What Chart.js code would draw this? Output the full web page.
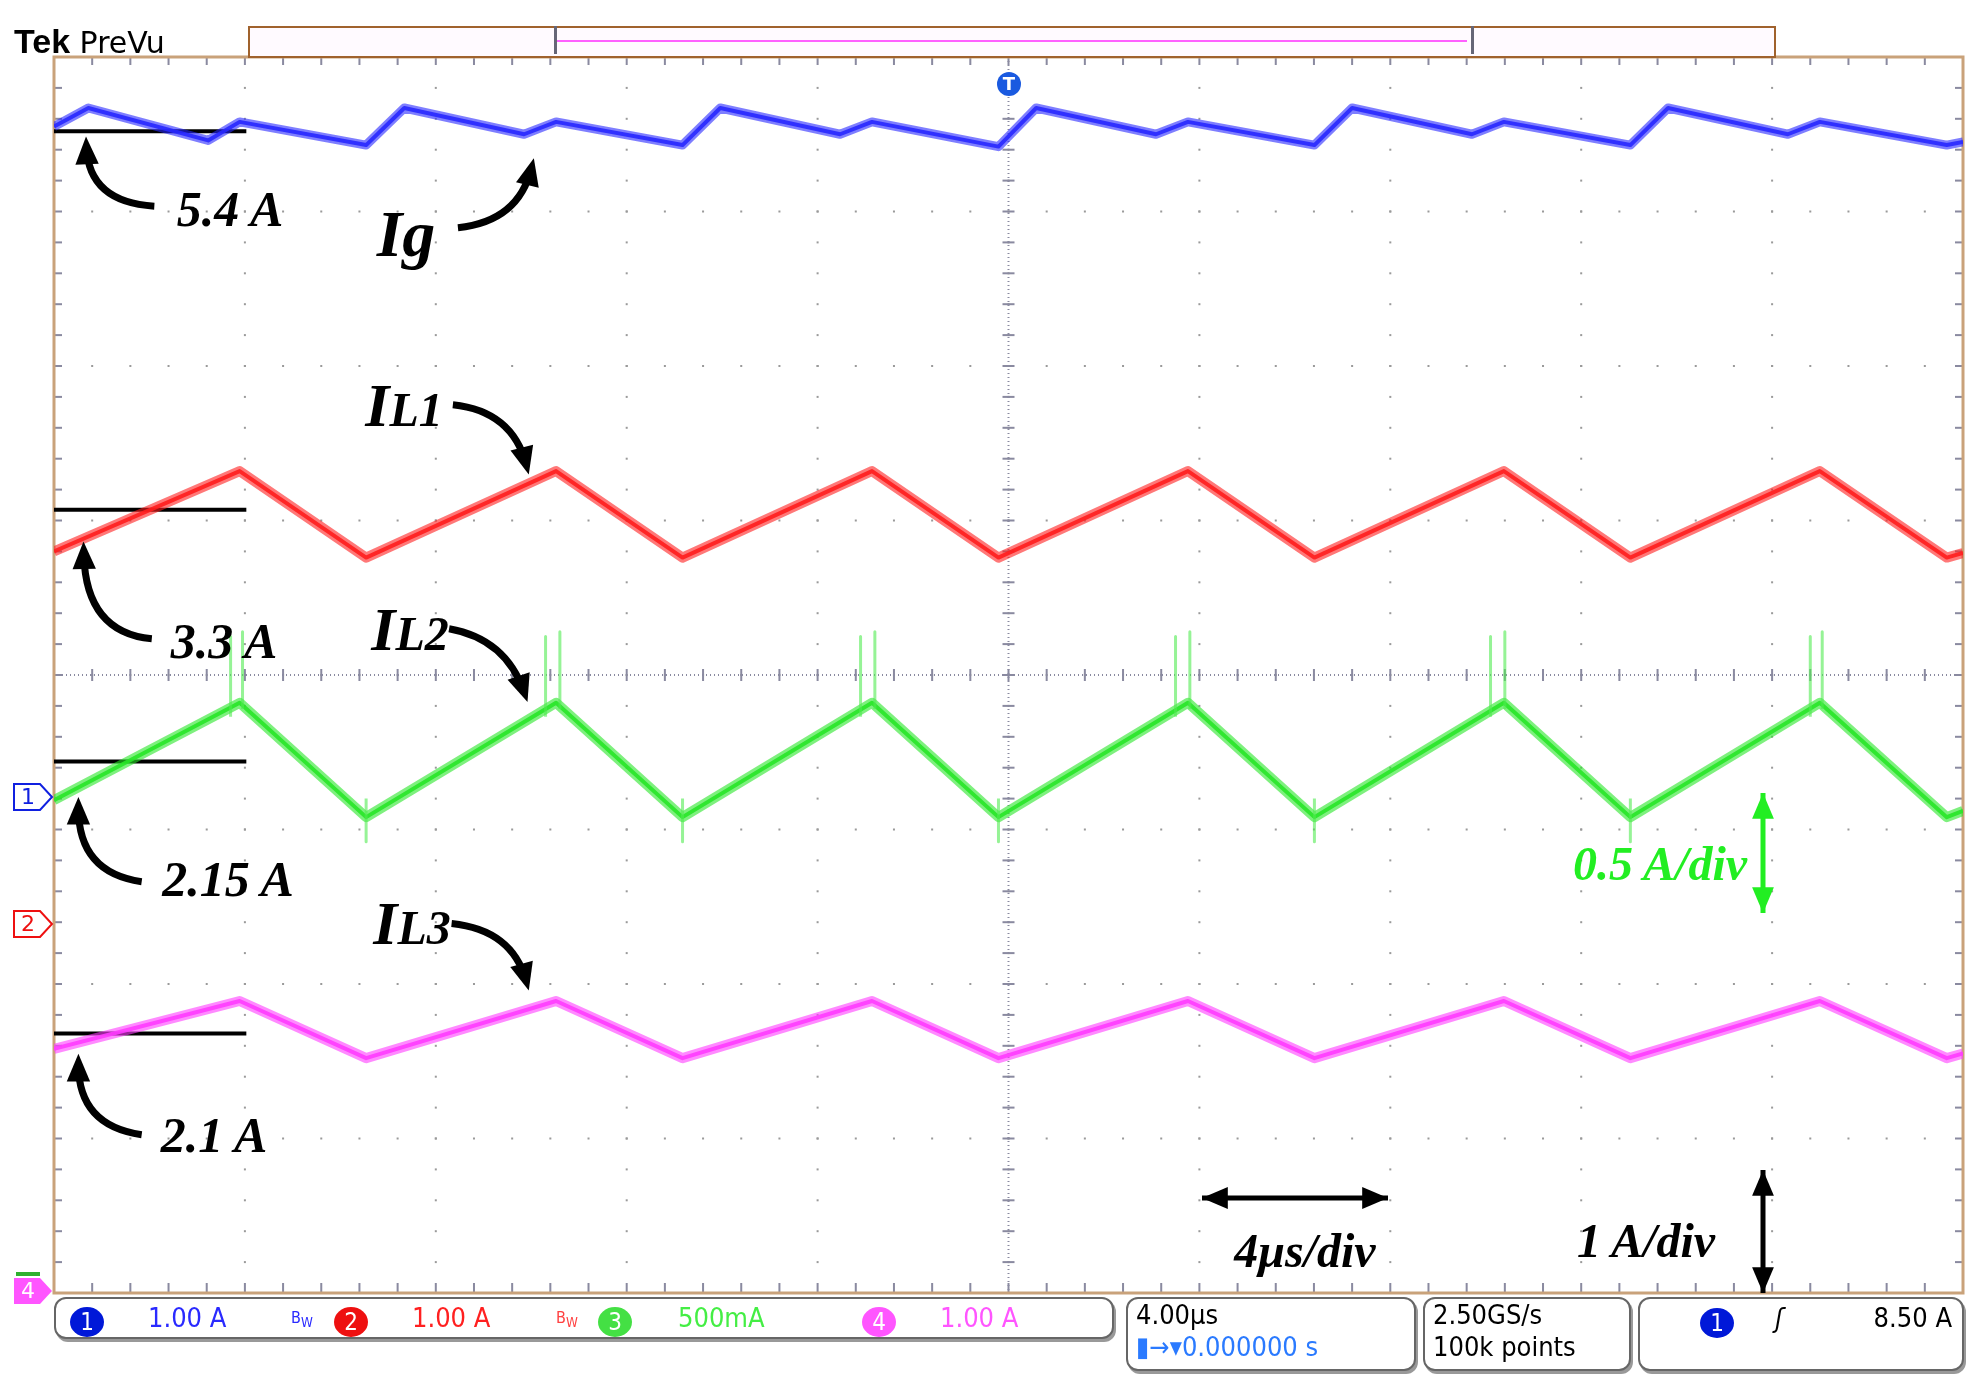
<!DOCTYPE html>
<html><head><meta charset="utf-8">
<script src="https://cdn.jsdelivr.net/npm/chart.js@4"></script>
<style>
body{margin:0;background:#fff;width:1980px;height:1395px;position:relative;overflow:hidden;font-family:"DejaVu Sans",sans-serif}
#c{position:absolute;left:0;top:0}
.lb{position:absolute;font-family:"Liberation Serif",serif;font-weight:bold;font-style:italic;color:#000;white-space:nowrap;transform:translate(-50%,-50%)}
.box{position:absolute;border:2px solid #666;border-radius:12px;box-shadow:2px 3px 0 #999;background:#fff;font-family:"DejaVu Sans Condensed","DejaVu Sans",sans-serif;font-size:27px}
.ci{display:inline-block;width:34px;height:30px;border-radius:50%;color:#fff;text-align:center;line-height:30px;font-size:24px}
</style></head><body>
<canvas id="c" width="1980" height="1395"></canvas>
<div style="position:absolute;left:14px;top:22px;font-size:30px;"><b style="font-family:'Liberation Sans Narrow','Liberation Sans';font-size:34px">Tek</b> PreVu</div>
<div style="position:absolute;left:248px;top:26px;width:1524px;height:28px;border:2px solid #a0622d;background:#fffaff"></div>
<div style="position:absolute;left:554px;top:26px;width:914px;height:28px;border-left:3px solid #667;border-right:3px solid #667"></div>
<div style="position:absolute;left:557px;top:40px;width:910px;height:2px;background:#ff60ff"></div>

<div class="lb" style="left:230px;top:209px;font-size:50px">5.4 A</div>
<div class="lb" style="left:406px;top:234px;font-size:66px">Ig</div>
<div class="lb" style="left:404px;top:405px;font-size:62px">I<span style="font-size:48px">L1</span></div>
<div class="lb" style="left:224px;top:641px;font-size:50px">3.3 A</div>
<div class="lb" style="left:410px;top:629px;font-size:62px">I<span style="font-size:48px">L2</span></div>
<div class="lb" style="left:228px;top:879px;font-size:50px">2.15 A</div>
<div class="lb" style="left:412px;top:923px;font-size:62px">I<span style="font-size:48px">L3</span></div>
<div class="lb" style="left:214px;top:1135px;font-size:50px">2.1 A</div>
<div class="lb" style="left:1660px;top:863px;font-size:48px;color:#22ee22">0.5 A/div</div>
<div class="lb" style="left:1305px;top:1250px;font-size:48px">4μs/div</div>
<div class="lb" style="left:1646px;top:1240px;font-size:48px">1 A/div</div>

<div class="box" style="left:54px;top:1297px;width:1056px;height:38px;line-height:38px">
 <span style="position:absolute;left:14px;top:3px"><span class="ci" style="background:#0018d8">1</span></span>
 <span style="position:absolute;left:92px;color:#2a2aff">1.00 A</span>
 <span style="position:absolute;left:235px;color:#2a2aff;font-size:16px">B<sub>W</sub></span>
 <span style="position:absolute;left:278px;top:3px"><span class="ci" style="background:#ee1010">2</span></span>
 <span style="position:absolute;left:356px;color:#ff2020">1.00 A</span>
 <span style="position:absolute;left:500px;color:#ff4040;font-size:16px">B<sub>W</sub></span>
 <span style="position:absolute;left:542px;top:3px"><span class="ci" style="background:#44e044">3</span></span>
 <span style="position:absolute;left:622px;color:#44ee44">500mA</span>
 <span style="position:absolute;left:806px;top:3px"><span class="ci" style="background:#ff55ff">4</span></span>
 <span style="position:absolute;left:884px;color:#ff55ff">1.00 A</span>
</div>
<div class="box" style="left:1126px;top:1297px;width:278px;height:70px;line-height:32px;padding-left:8px">4.00μs<br><span style="color:#2a7aff">▮→▾0.000000 s</span></div>
<div class="box" style="left:1423px;top:1297px;width:196px;height:70px;line-height:32px;padding-left:8px">2.50GS/s<br>100k points</div>
<div class="box" style="left:1638px;top:1297px;width:322px;height:70px;line-height:38px">
 <span style="position:absolute;left:60px;top:4px"><span class="ci" style="background:#0018d8">1</span></span>
 <span style="position:absolute;left:135px;font-style:italic">ʃ</span>
 <span style="position:absolute;right:10px">8.50 A</span>
</div>
<script>
// time in µs (4 µs/div), values in screen divisions (0 = centre line)
const tIg  = [0,0.72,3.23,3.89,6.54,7.34,9.85,10.52,13.17,13.96,16.47,17.14,19.79,20.58,23.09,23.76,26.41,27.2,29.71,30.38,33.03,33.82,36.33,37.0,39.66,40];
const vIg  = [3.55,3.67,3.46,3.58,3.43,3.67,3.50,3.58,3.43,3.67,3.50,3.58,3.42,3.67,3.50,3.58,3.43,3.67,3.50,3.58,3.43,3.67,3.50,3.58,3.43,3.45];
const tL   = [0,3.89,6.54,10.52,13.17,17.14,19.79,23.76,26.41,30.38,33.03,37.0,39.66,40];
const vL1  = [0.80,1.32,0.76,1.32,0.76,1.32,0.76,1.32,0.76,1.32,0.76,1.32,0.76,0.79];
const vL2  = [-0.81,-0.18,-0.92,-0.18,-0.92,-0.18,-0.92,-0.18,-0.92,-0.18,-0.92,-0.18,-0.92,-0.88];
const vL3  = [-2.42,-2.11,-2.48,-2.11,-2.48,-2.11,-2.48,-2.11,-2.48,-2.11,-2.48,-2.11,-2.48,-2.45];
// reference markers (A labels)
const refX = [0,4.03];
const ref54 = 3.52, ref33 = 1.07, ref215 = -0.56, ref21 = -2.32;
// green switching spikes
const tSp = [3.7,3.7,3.7,null,3.95,3.95,3.95,null,10.3,10.3,10.3,null,10.6,10.6,10.6,null,16.9,16.9,16.9,null,17.2,17.2,17.2,null,23.5,23.5,23.5,null,23.8,23.8,23.8,null,30.1,30.1,30.1,null,30.4,30.4,30.4,null,36.8,36.8,36.8,null,37.05,37.05,37.05,null,6.54,6.54,6.54,null,13.17,13.17,13.17,null,19.79,19.79,19.79,null,26.41,26.41,26.41,null,33.03,33.03,33.03];
const vSp = [-0.27,0.25,-0.27,null,-0.22,0.28,-0.22,null,-0.27,0.25,-0.27,null,-0.22,0.28,-0.22,null,-0.27,0.25,-0.27,null,-0.22,0.28,-0.22,null,-0.27,0.25,-0.27,null,-0.22,0.28,-0.22,null,-0.27,0.25,-0.27,null,-0.22,0.28,-0.22,null,-0.27,0.25,-0.27,null,-0.22,0.28,-0.22,null,-0.8,-1.08,-0.8,null,-0.8,-1.08,-0.8,null,-0.8,-1.08,-0.8,null,-0.8,-1.08,-0.8,null,-0.8,-1.08,-0.8];

const pts=(t,v)=>t.map((x,i)=>x===null?{x:null,y:null}:{x:x,y:v[i]});
const trace=(t,v,c,w)=>({data:pts(t,v),borderColor:c,borderWidth:w,pointRadius:0,tension:0,spanGaps:false,borderJoinStyle:'round'});
const S=1.265;
const arrows=[[122,163,70,160,68,108],[362,180,410,175,422,125],[358,320,405,325,418,375],[355,497,400,505,417,555],[357,730,405,735,418,783],[120,505,68,500,66,428],[112,697,62,690,62,630],[112,897,62,890,62,833]];
const deco={id:'deco',beforeDatasetsDraw(ch){
  const c=ch.ctx,a=ch.chartArea,cx=(a.left+a.right)/2,cy=(a.top+a.bottom)/2;
  c.save();c.fillStyle='#9a9a9a';
  const dx=(a.right-a.left)/10,dy=(a.bottom-a.top)/8;
  for(let i=1;i<10;i++)for(let j=0;j<=40;j++){c.fillRect(a.left+i*dx-1,a.top+j*dy/5-1,2,2);}
  for(let j=1;j<8;j++)for(let i=0;i<=50;i++){c.fillRect(a.left+i*dx/5-1,a.top+j*dy-1,2,2);}
  c.fillStyle='#8a8aa0';
  for(let y=a.top;y<a.bottom;y+=4)c.fillRect(cx-1,y,2,1);
  for(let x=a.left;x<a.right;x+=4)c.fillRect(x,cy-1,1,2);
  for(let i=0;i<=50;i++){const x=a.left+i*dx/5;c.fillRect(x-1,cy-6,2,12);c.fillRect(x-1,a.bottom-10,2,10);c.fillRect(x-1,a.top,2,8);}
  for(let j=0;j<=40;j++){const y=a.top+j*dy/5;c.fillRect(cx-6,y-1,12,2);c.fillRect(a.left,y-1,8,2);c.fillRect(a.right-8,y-1,8,2);}
  c.strokeStyle='#c9a27a';c.lineWidth=3;c.strokeRect(a.left,a.top,a.right-a.left,a.bottom-a.top);
  c.restore();},
 afterDatasetsDraw(ch){
  const c=ch.ctx;c.save();c.strokeStyle='#000';c.fillStyle='#000';c.lineWidth=7;
  for(const p of arrows){const [x0,y0,qx,qy,x1,y1]=p.map(v=>v*S);
    c.beginPath();c.moveTo(x0,y0);c.quadraticCurveTo(qx,qy,x1+(qx-x1)*0.15,y1+(qy-y1)*0.15);c.stroke();
    const ang=Math.atan2(y1-qy,x1-qx);c.beginPath();c.moveTo(x1,y1);
    c.lineTo(x1-30*Math.cos(ang-0.4),y1-30*Math.sin(ang-0.4));c.lineTo(x1-30*Math.cos(ang+0.4),y1-30*Math.sin(ang+0.4));c.fill();}
  const dbl=(x0,y0,x1,y1,col)=>{c.strokeStyle=col;c.fillStyle=col;c.lineWidth=5;c.beginPath();c.moveTo(x0,y0);c.lineTo(x1,y1);c.stroke();
    for(const [ax,ay,bx,by] of [[x0,y0,x1,y1],[x1,y1,x0,y0]]){const g=Math.atan2(ay-by,ax-bx);c.beginPath();c.moveTo(ax,ay);
    c.lineTo(ax-28*Math.cos(g-0.4),ay-28*Math.sin(g-0.4));c.lineTo(ax-28*Math.cos(g+0.4),ay-28*Math.sin(g+0.4));c.fill();}};
  dbl(1202,1198,1388,1198,'#000');dbl(1763,1170,1763,1293,'#000');dbl(1763,793,1763,913,'#22ee22');
  const mk=(y,col,t)=>{c.strokeStyle=col;c.lineWidth=2;c.fillStyle='#fff';c.beginPath();c.moveTo(14,y-13);c.lineTo(40,y-13);c.lineTo(52,y);c.lineTo(40,y+13);c.lineTo(14,y+13);c.closePath();c.fill();c.stroke();
    c.fillStyle=col;c.font='22px DejaVu Sans';c.textAlign='center';c.textBaseline='middle';c.fillText(t,28,y+1);};
  mk(797,'#1020e0','1');mk(924,'#ee1010','2');
  c.fillStyle='#ff55ff';c.beginPath();c.moveTo(14,1278);c.lineTo(40,1278);c.lineTo(52,1291);c.lineTo(40,1304);c.lineTo(14,1304);c.fill();
  c.fillStyle='#fff';c.font='22px DejaVu Sans';c.textAlign='center';c.textBaseline='middle';c.fillText('4',28,1292);
  c.fillStyle='#30b030';c.fillRect(16,1272,24,4);
  c.fillStyle='#1a5ae0';c.beginPath();c.arc(1009,84,12,0,7);c.fill();c.beginPath();c.arc(1009,44,11,0,7);c.fill();
  c.fillStyle='#fff';c.font='bold 18px DejaVu Sans';c.fillText('T',1009,85);c.fillText('T',1009,45);
  c.restore();}};
new Chart(document.getElementById('c'),{type:'line',
 data:{datasets:[
  trace(tIg,vIg,'rgba(40,40,255,0.6)',9),
  trace(tL,vL1,'rgba(255,30,30,0.6)',10),
  trace(tSp,vSp,'rgba(80,235,80,0.6)',3),
  trace(tL,vL2,'rgba(40,230,40,0.6)',10),
  trace(tL,vL3,'rgba(255,60,255,0.6)',10),
  trace(tIg,vIg,'rgba(40,40,255,0.9)',4),
  trace(tL,vL1,'rgba(255,30,30,0.9)',4),
  trace(tL,vL2,'rgba(40,230,40,0.9)',4),
  trace(tL,vL3,'rgba(255,60,255,0.9)',4),
  trace(refX,[ref54,ref54],'#000',4),
  trace(refX,[ref33,ref33],'#000',4),
  trace(refX,[ref215,ref215],'#000',4),
  trace(refX,[ref21,ref21],'#000',4)]},
 options:{responsive:false,animation:false,plugins:{legend:{display:false},tooltip:{enabled:false}},
  layout:{padding:{left:54,top:57,right:17,bottom:102}},
  scales:{x:{type:'linear',min:0,max:40,display:false},y:{min:-4,max:4,display:false}}},
 plugins:[deco]});
</script></body></html>
